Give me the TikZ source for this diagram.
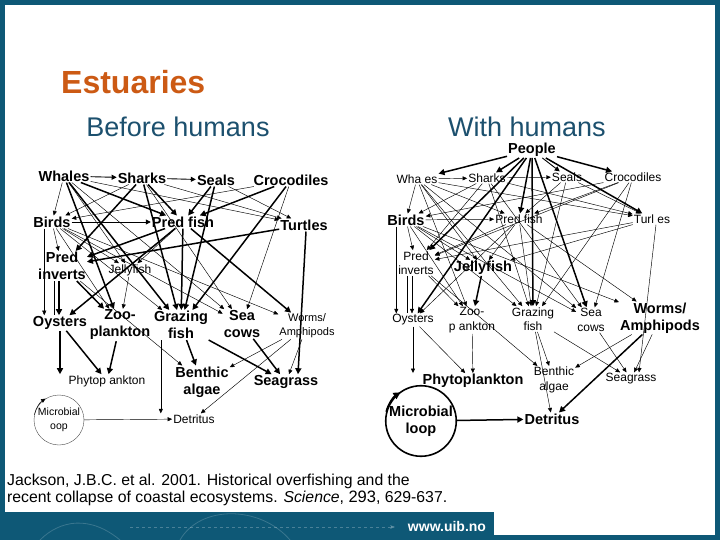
\documentclass[tikz,border=0pt]{standalone}
\usepackage{fontspec}
\setmainfont{Liberation Sans}
\usetikzlibrary{arrows.meta,positioning}
\definecolor{uibteal}{RGB}{14,88,118}
\definecolor{titleorange}{RGB}{204,90,20}
\definecolor{headteal}{RGB}{28,80,110}
\tikzset{
  bigsp/.style={font=\bfseries\fontsize{14.5}{17}\selectfont,align=center,inner sep=1pt},
  smallsp/.style={font=\fontsize{12}{14.5}\selectfont,align=center,inner sep=1pt},
  heavy/.style={line width=1.5pt,-{Triangle[length=6pt,width=6pt]}},
  mid/.style={line width=0.9pt,-{Triangle[length=5pt,width=5pt]}},
  light/.style={line width=0.45pt,-{Triangle[length=4.5pt,width=4pt]}},
}
\begin{document}
\begin{tikzpicture}[x=1pt,y=-1pt]
\useasboundingbox (0,0) rectangle (720,540);
% slide frame and footer band
\fill[uibteal] (0,0) rectangle (720,540);
\fill[white] (5,5) rectangle (715,512); \fill[white] (494,511) rectangle (715,535);
\draw[white,opacity=.18,line width=.8pt] (40,540) .. controls (60,520) and (90,515) .. (120,540);
\draw[white,opacity=.18,line width=.8pt] (180,540) .. controls (200,505) and (260,505) .. (290,540);
\draw[white,opacity=.25,dashed,-{Stealth[length=5pt]}] (130,527)--(395,527);
\node[text=white,font=\bfseries\fontsize{14}{14}\selectfont] (web) at (447,526) {www.uib.no};
% titles
\node[text=titleorange,font=\bfseries\fontsize{32}{32}\selectfont,inner sep=0,anchor=west] (ttl) at (61,82) {Estuaries};
\node[text=headteal,font=\fontsize{27}{28}\selectfont] (hbef) at (178,127) {Before humans};
\node[text=headteal,font=\fontsize{27}{28}\selectfont] (hwith) at (527,127) {With humans};
\node[font=\fontsize{15.8}{16.5}\selectfont,align=left,anchor=north west,inner sep=0] (cite) at (7,474)
  {Jackson, J.B.C. et al. 2001. Historical overfishing and the\\
   recent collapse of coastal ecosystems. \textit{Science}, {\fontsize{16.5}{16.5}\selectfont 293}, 629-637.};

% ---- before humans ----
\node[bigsp] (Lwh) at (64,176) {Whales};
\node[bigsp] (Lsh) at (142,178) {Sharks};
\node[bigsp] (Lse) at (216,180) {Seals};
\node[bigsp] (Lcr) at (291,180) {Crocodiles};
\node[bigsp] (Lbi) at (52,222) {Birds};
\node[bigsp] (Lpf) at (183,222) {Pred fish};
\node[bigsp] (Ltu) at (304,225) {Turtles};
\node[bigsp] (Lpi) at (62,266) {Pred\\inverts};
\node[smallsp] (Ljf) at (130,270) {Jellyfish};
\node[bigsp] (Loy) at (60,323) {Oysters};
\node[bigsp] (Lzo) at (120,325) {Zoo-\\plankton};
\node[bigsp] (Lgr) at (181,325) {Grazing\\fish};
\node[bigsp] (Lsc) at (242,324) {Sea\\cows};
\node[smallsp,font=\fontsize{11}{14}\selectfont] (Lwo) at (307,326) {Worms/\\Amphipods};
\node[smallsp] (Lph) at (107,381) {Phytop ankton};
\node[bigsp] (Lba) at (202,382) {Benthic\\algae};
\node[bigsp] (Lsg) at (286,382) {Seagrass};
\node[smallsp,font=\fontsize{10.5}{13.5}\selectfont,draw=black!70,circle,minimum size=50pt,inner sep=0,line width=.4pt] (Lml) at (59,420) {Microbial\\oop};
\node[smallsp] (Ldt) at (194,419) {Detritus};
\coordinate (Lod) at (Loy.south |- Lph.north);

\foreach \a/\b in {Lwh/Lsh,Lsh/Lse,Lbi/Lpf}
  \draw[mid] (\a)--(\b);
\foreach \a/\b in {Lwh/Lpf,Lwh/Lzo,Lwh/Lgr,Lsh/Lpi,Lsh/Lgr,Lsh/Lpf,Lse/Lpf,Lse/Lgr,Lcr/Lpf,Lcr/Lgr,
    Lpf/Loy,Lpf/Lgr,Lpf/Lwo,Ltu/Lpi,Lpf/Lpi,Lpi/Lzo,Loy/Lph,Lzo/Lph,Lgr/Lba,Lgr/Lsg,Lsc/Lsg,Loy/Lod}
  \draw[heavy] (\a)--(\b);
\draw[heavy] ([xshift=2pt]Ltu.south)--([xshift=12pt]Lsg.north);
\draw[heavy] (Lpi.south) ++(-3,0) coordinate (Lpd) (Lpd)--(Loy.north -| Lpd);
\draw[line width=.5pt] (Lpi.south) ++(-8,0) coordinate (Lpe) (Lpe)--(Loy.north -| Lpe);
\foreach \a/\b in {Lsh/Lbi,Lcr/Lbi,Lwh/Ltu,Lsh/Ltu,Lwh/Lsc,Lsh/Lsc,Lwh/Lbi,Lbi/Lpi,Lbi/Ljf,Lbi/Lzo,
    Lbi/Lgr,Lbi/Lsc,Lpi/Lba,Lpf/Ljf,Lcr/Lsc,Ljf/Lzo,Lwo/Lba,Lwo/Lsg,Lwo/Ldt,Lml/Ldt,Lbi/Lwo,Lwh/Ljf,Lse/Ltu}
  \draw[light] (\a)--(\b);
\draw[light] (Lbi.south west) ++(12,0) coordinate (Lbd) (Lbd)--(Loy.north -| Lbd);
\draw[light] (Lgr.south west) ++(8,0) coordinate (Lgd) (Lgd)--(Ldt.north -| Lgd);
\draw[light] (Lml.168) arc[start angle=-168,end angle=-122,radius=25.2];

% ---- with humans ----
\node[bigsp] (Rpe) at (532,150) {People};
\node[smallsp] (Rwh) at (417,179) {Wha es};
\node[smallsp] (Rsh) at (487,178) {Sharks};
\node[smallsp] (Rse) at (567,177) {Seals};
\node[smallsp] (Rcr) at (633,177) {Crocodiles};
\node[bigsp] (Rbi) at (406,220) {Birds};
\node[smallsp] (Rpf) at (519,219) {Pred fish};
\node[smallsp] (Rtu) at (652,219) {Turl es};
\node[smallsp] (Rpi) at (416,263) {Pred\\inverts};
\node[bigsp] (Rjf) at (483,268) {Jellyfish};
\node[smallsp] (Roy) at (413,320) {Oysters};
\node[smallsp] (Rzo) at (472,320) {Zoo-\\p ankton};
\node[smallsp] (Rgr) at (533,319) {Grazing\\fish};
\node[smallsp] (Rsc) at (591,320) {Sea\\cows};
\node[bigsp] (Rwo) at (660,318) {Worms/\\Amphipods};
\node[smallsp] (Rba) at (554,380) {Benthic\\algae};
\node[smallsp] (Rsg) at (631,379) {Seagrass};
\node[bigsp] (Rph) at (473,381) {Phytoplankton};
\node[bigsp,draw,circle,minimum size=64pt,inner sep=0,line width=1.6pt] (Rml) at (421,421) {Microbial\\loop};
\node[bigsp] (Rdt) at (552,419) {Detritus};
\coordinate (Rod) at (Roy.south |- Rph.north);

\foreach \a/\b in {Rpe/Rwh,Rpe/Rsh,Rpe/Rcr,Rpe/Rtu,Rpe/Rpf,Rpe/Rpi,Rpe/Roy,Rpe/Rgr,Rpe/Rsc,Rjf/Rzo,Rwo/Rdt,Rml/Rdt}
  \draw[heavy] (\a)--(\b);
\draw[mid] (Rpe)--(Rse);
\foreach \a/\b in {Rwh/Rsh,Rbi/Rpf,Rsh/Rse,Rwh/Rpf,Rwh/Rzo,Rwh/Rgr,Rsh/Rpi,Rsh/Rgr,Rse/Rpf,Rse/Rgr,Rcr/Rpf,
    Rcr/Rgr,Rpf/Roy,Rpf/Rgr,Rpf/Rwo,Rtu/Rpi,Rpf/Rpi,Rpi/Rzo,Roy/Rph,Rzo/Rph,Rgr/Rba,Rgr/Rsg,Rsc/Rsg,
    Rsh/Rbi,Rcr/Rbi,Rwh/Rtu,Rsh/Rtu,Rwh/Rsc,Rsh/Rsc,Rwh/Rbi,Rbi/Rpi,Rbi/Rjf,Rbi/Rzo,Rbi/Rgr,Rbi/Rsc,
    Rpi/Rba,Rpf/Rjf,Rcr/Rsc,Rwo/Rba,Rwo/Rsg,Rgr/Rdt,Rbi/Rwo,Rwh/Rjf,Rse/Rtu,Rcr/Rpi,Rtu/Rjf,Roy/Rod}
  \draw[light] (\a)--(\b);
\draw[light] ([xshift=4pt]Rtu.south)--([xshift=8pt]Rsg.north);
\draw[light] (Rpi.south) ++(-4,0) coordinate (Rpd) (Rpd)--(Roy.north -| Rpd);
\draw[line width=.5pt] (Rpi.south) ++(-9,0) coordinate (Rpe2) (Rpe2)--(Roy.north -| Rpe2);
\draw[light] (Rbi.south west) ++(10,0) coordinate (Rbd) (Rbd)--(Roy.north -| Rbd);
\draw[line width=1.6pt,-{Triangle[length=7pt,width=7pt]}] (Rml.165) arc[start angle=-165,end angle=-122,radius=32.8];
\end{tikzpicture}
\end{document}
